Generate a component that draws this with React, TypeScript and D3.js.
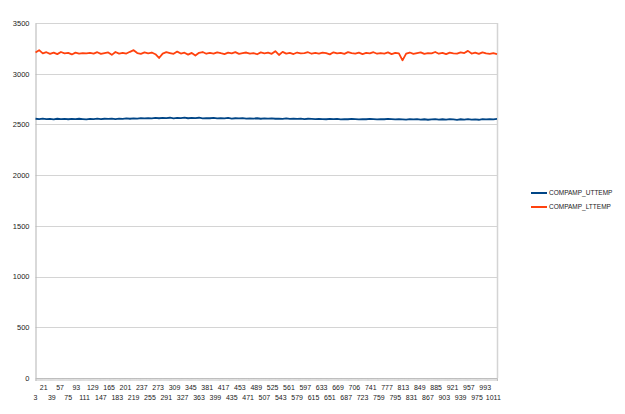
import React, { useRef, useEffect } from "react";
import * as d3 from "d3";

// row numbers on the category axis run from 3 up to 1019
const firstRow = 3;
const rowCount = 1017;
// the series below are read every 8th row
const sampleStep = 8;

const xTickLabels = [
  "3", "21", "39", "57", "75", "93", "111", "129", "147", "165", "183", "201",
  "219", "237", "255", "273", "291", "309", "327", "345", "363", "381", "399",
  "417", "435", "453", "471", "489", "507", "525", "543", "561", "579", "597",
  "615", "633", "651", "669", "687", "706", "723", "741", "759", "777", "795",
  "813", "831", "849", "867", "885", "903", "921", "939", "957", "975", "993",
  "1011",
];
const xLabelEvery = 18;

const yTicks = [0, 500, 1000, 1500, 2000, 2500, 3000, 3500];

const seriesNames = ["COMPAMP_UTTEMP", "COMPAMP_LTTEMP"];
const seriesColors = ["#004586", "#ff420e"];

const uttemp = [
  2556, 2552, 2557, 2553, 2555, 2550, 2556, 2553, 2554, 2551, 2555, 2552, 2556, 2553, 2550, 2555,
  2553, 2557, 2552, 2556, 2554, 2558, 2553, 2557, 2555, 2559, 2556, 2560, 2557, 2562, 2559, 2563,
  2560, 2565, 2561, 2564, 2562, 2566, 2560, 2565, 2563, 2567, 2561, 2564, 2562, 2566, 2560, 2563,
  2561, 2565, 2559, 2562, 2560, 2564, 2558, 2561, 2559, 2562, 2557, 2560, 2558, 2561, 2556, 2559,
  2557, 2560, 2556, 2558, 2555, 2559, 2554, 2557, 2555, 2558, 2553, 2556, 2554, 2552, 2555, 2553,
  2551, 2554, 2552, 2555, 2550, 2553, 2551, 2554, 2552, 2550, 2553, 2551, 2554, 2552, 2550, 2553,
  2551, 2554, 2552, 2549, 2553, 2550, 2547, 2552, 2549, 2553, 2548, 2551, 2546, 2550, 2553, 2548,
  2551, 2547, 2552, 2549, 2545, 2551, 2548, 2553, 2547, 2550, 2546, 2552, 2549, 2553, 2550, 2554,
];

const lttemp = [
  3210, 3232, 3200, 3212, 3196, 3208, 3193, 3214, 3200, 3205, 3190, 3208, 3198, 3203, 3200, 3206,
  3198, 3212, 3195, 3204, 3210, 3186, 3214, 3198, 3206, 3199, 3216, 3232, 3204, 3196, 3210, 3201,
  3209, 3192, 3155, 3198, 3212, 3204, 3196, 3218, 3199, 3207, 3188, 3205, 3180, 3206, 3214, 3197,
  3205, 3199, 3211, 3202, 3194, 3208, 3200, 3213, 3196, 3204, 3209, 3198, 3203, 3192, 3210, 3201,
  3207, 3196, 3222, 3185, 3215, 3198, 3206, 3194, 3209, 3200, 3203, 3212, 3197, 3205, 3199, 3208,
  3202, 3191, 3211, 3200, 3206, 3196, 3213, 3203, 3198, 3208, 3194, 3205, 3200, 3212, 3197, 3204,
  3199, 3210, 3193, 3206, 3201, 3132, 3198, 3209, 3196, 3204, 3211, 3195, 3203, 3200, 3214, 3197,
  3206, 3193, 3208, 3201, 3198, 3210, 3204, 3225, 3199, 3207, 3195, 3211, 3200, 3196, 3203, 3194,
];

const Chart: React.FC<{ width?: number; height?: number }> = ({
  width = 625,
  height = 414,
}) => {
  const ref = useRef<SVGSVGElement | null>(null);

  useEffect(() => {
    const margin = { top: 23, right: 128, bottom: 36, left: 35.5 };
    const w = width - margin.left - margin.right;
    const h = height - margin.top - margin.bottom;
    const font = "'Liberation Sans', Arial, sans-serif";

    d3.select(ref.current).selectAll("*").remove();

    const root = d3
      .select(ref.current)
      .attr("width", width)
      .attr("height", height)
      .style("background", "#fff");

    const svg = root
      .append("g")
      .attr("transform", `translate(${margin.left},${margin.top})`);

    const x = d3.scaleLinear().domain([0, rowCount - 1]).range([0, w]);
    const y = d3.scaleLinear().domain([0, 3500]).range([h, 0]);

    // gridlines
    svg
      .append("g")
      .selectAll("line")
      .data(yTicks)
      .enter()
      .append("line")
      .attr("x1", 0)
      .attr("x2", w)
      .attr("y1", (d) => Math.round(y(d)) + 0.5)
      .attr("y2", (d) => Math.round(y(d)) + 0.5)
      .attr("stroke", "#d4d4d4");

    // right wall edge
    svg
      .append("line")
      .attr("x1", w + 0.5)
      .attr("x2", w + 0.5)
      .attr("y1", y(3500))
      .attr("y2", y(0))
      .attr("stroke", "#d4d4d4")
      .attr("stroke-width", 1.5);

    // y axis
    const yAxis = svg
      .append("g")
      .call(
        d3
          .axisLeft(y)
          .tickValues(yTicks)
          .tickSize(0)
          .tickPadding(6)
          .tickFormat(d3.format("d")) as any,
      );
    yAxis.select(".domain").attr("stroke", "#b3b3b3");
    yAxis
      .selectAll("text")
      .attr("fill", "#222")
      .style("font-family", font)
      .style("font-size", "7.5px");

    // x axis: one tick per row, which packs into a grey band
    const xAxis = svg
      .append("g")
      .attr("transform", `translate(0,${h})`)
      .call(
        d3
          .axisBottom(x)
          .tickValues(d3.range(0, rowCount, 2))
          .tickSize(3)
          .tickFormat(() => "") as any,
      );
    xAxis.select(".domain").attr("stroke", "#b3b3b3");
    xAxis.selectAll(".tick line").attr("stroke", "#c8c8c8").attr("stroke-width", 0.6);

    svg
      .append("g")
      .selectAll("text")
      .data(xTickLabels)
      .enter()
      .append("text")
      .attr("x", (_, i) => x(i * xLabelEvery))
      .attr("y", (_, i) => h + (i % 2 === 0 ? 22 : 12))
      .attr("text-anchor", "middle")
      .attr("fill", "#222")
      .style("font-family", font)
      .style("font-size", "7px")
      .text((d) => d);

    // series lines
    const line = d3
      .line<number>()
      .x((_, i) => x(i * sampleStep))
      .y((d) => y(d));

    [uttemp, lttemp].forEach((values, k) => {
      svg
        .append("path")
        .datum(values)
        .attr("fill", "none")
        .attr("stroke", seriesColors[k])
        .attr("stroke-width", 1.8)
        .attr("stroke-linejoin", "round")
        .attr("d", line);
    });

    // legend
    const legend = root.append("g").attr("transform", "translate(531,193)");
    seriesNames.forEach((name, k) => {
      const row = legend.append("g").attr("transform", `translate(0,${k * 14})`);
      row
        .append("line")
        .attr("x1", 0)
        .attr("x2", 16)
        .attr("stroke", seriesColors[k])
        .attr("stroke-width", 2);
      row
        .append("text")
        .attr("x", 18)
        .attr("dy", "0.35em")
        .attr("fill", "#222")
        .style("font-family", font)
        .style("font-size", "6.5px")
        .text(name);
    });
  }, [width, height]);

  return <svg ref={ref} style={{ position: "absolute", left: 0, top: 0 }} />;
};

export default function App() {
  return <Chart />;
}
